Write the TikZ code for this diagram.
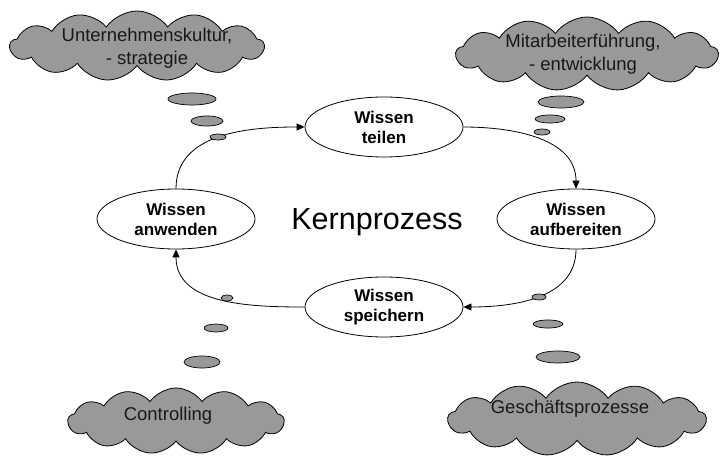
\documentclass[tikz,border=0pt]{standalone}
\usepackage{fontspec}
\setmainfont{Liberation Sans}
\usetikzlibrary{shapes.geometric,shapes.symbols,arrows.meta}
\definecolor{cloudgray}{RGB}{153,153,153}
\begin{document}
\begin{tikzpicture}[x=1pt,y=-1pt,
  stage/.style={ellipse, draw, line width=0.8pt, minimum width=158pt, minimum height=60pt,
    inner sep=0pt, align=center, font=\bfseries\fontsize{17}{20}\selectfont},
  thought/.style={cloud, cloud puffs=13, cloud puff arc=110, cloud ignores aspect, draw,
    line width=0.8pt, fill=cloudgray},
  thoughttext/.style={align=center, inner sep=0pt, text=black!90, font=\fontsize{18.5}{23}\selectfont},
  bubble/.style={ellipse, draw, line width=0.7pt, fill=cloudgray, inner sep=0pt},
  flow/.style={line width=0.8pt, -{Triangle[length=8pt,width=7pt]}}]
\useasboundingbox (0,0) rectangle (720,457);

% process stages
\node[stage] (teilen) at (384,127) {Wissen\\teilen};
\node[stage] (aufb) at (576,219) {Wissen\\aufbereiten};
\node[stage] (speich) at (384,307) {Wissen\\speichern};
\node[stage] (anw) at (176,219) {Wissen\\anwenden};
\node[font=\fontsize{30.5}{34}\selectfont, inner sep=0pt] (kern) at (377,222) {Kernprozess};

% cycle
\draw[flow] (teilen.east) to[out=0,in=90] (aufb.north);
\draw[flow] (aufb.south) to[out=-90,in=0] (speich.east);
\draw[flow] (speich.west) to[out=180,in=-90] (anw.south);
\draw[flow] (anw.north) to[out=90,in=180] (teilen.west);

% thought clouds
\node[thought, minimum width=254pt, minimum height=70pt] (c1) at (137,46) {};
\node[thought, minimum width=262pt, minimum height=74pt] (c2) at (587,54) {};
\node[thought, minimum width=216pt, minimum height=66pt] (c3) at (176,421) {};
\node[thought, minimum width=258pt, minimum height=74pt] (c4) at (577,419) {};

\node[thoughttext] (t1) at (147,48) {Unternehmenskultur,\\- strategie};
\node[thoughttext] (t2) at (583,54) {Mitarbeiterführung,\\- entwicklung};
\node[thoughttext] (t3) at (168,416) {Controlling};
\node[thoughttext] (t4) at (570,409) {Geschäftsprozesse};

% thought bubbles
\node[bubble, minimum width=48pt, minimum height=12pt] (a1) at (192,99) {};
\node[bubble, minimum width=32pt, minimum height=10pt] (a2) at (207,121) {};
\node[bubble, minimum width=16pt, minimum height=6pt] (a3) at (218,137) {};

\node[bubble, minimum width=46pt, minimum height=12pt] (b1) at (561,102) {};
\node[bubble, minimum width=30pt, minimum height=8pt] (b2) at (550,119) {};
\node[bubble, minimum width=16pt, minimum height=6pt] (b3) at (542,132) {};

\node[bubble, minimum width=12pt, minimum height=6pt] (d1) at (227,298) {};
\node[bubble, minimum width=24pt, minimum height=8pt] (d2) at (216,328) {};
\node[bubble, minimum width=36pt, minimum height=12pt] (d3) at (202,362) {};

\node[bubble, minimum width=14pt, minimum height=6pt] (e1) at (539,297) {};
\node[bubble, minimum width=30pt, minimum height=8pt] (e2) at (548,324) {};
\node[bubble, minimum width=44pt, minimum height=12pt] (e3) at (558,357) {};
\end{tikzpicture}
\end{document}
